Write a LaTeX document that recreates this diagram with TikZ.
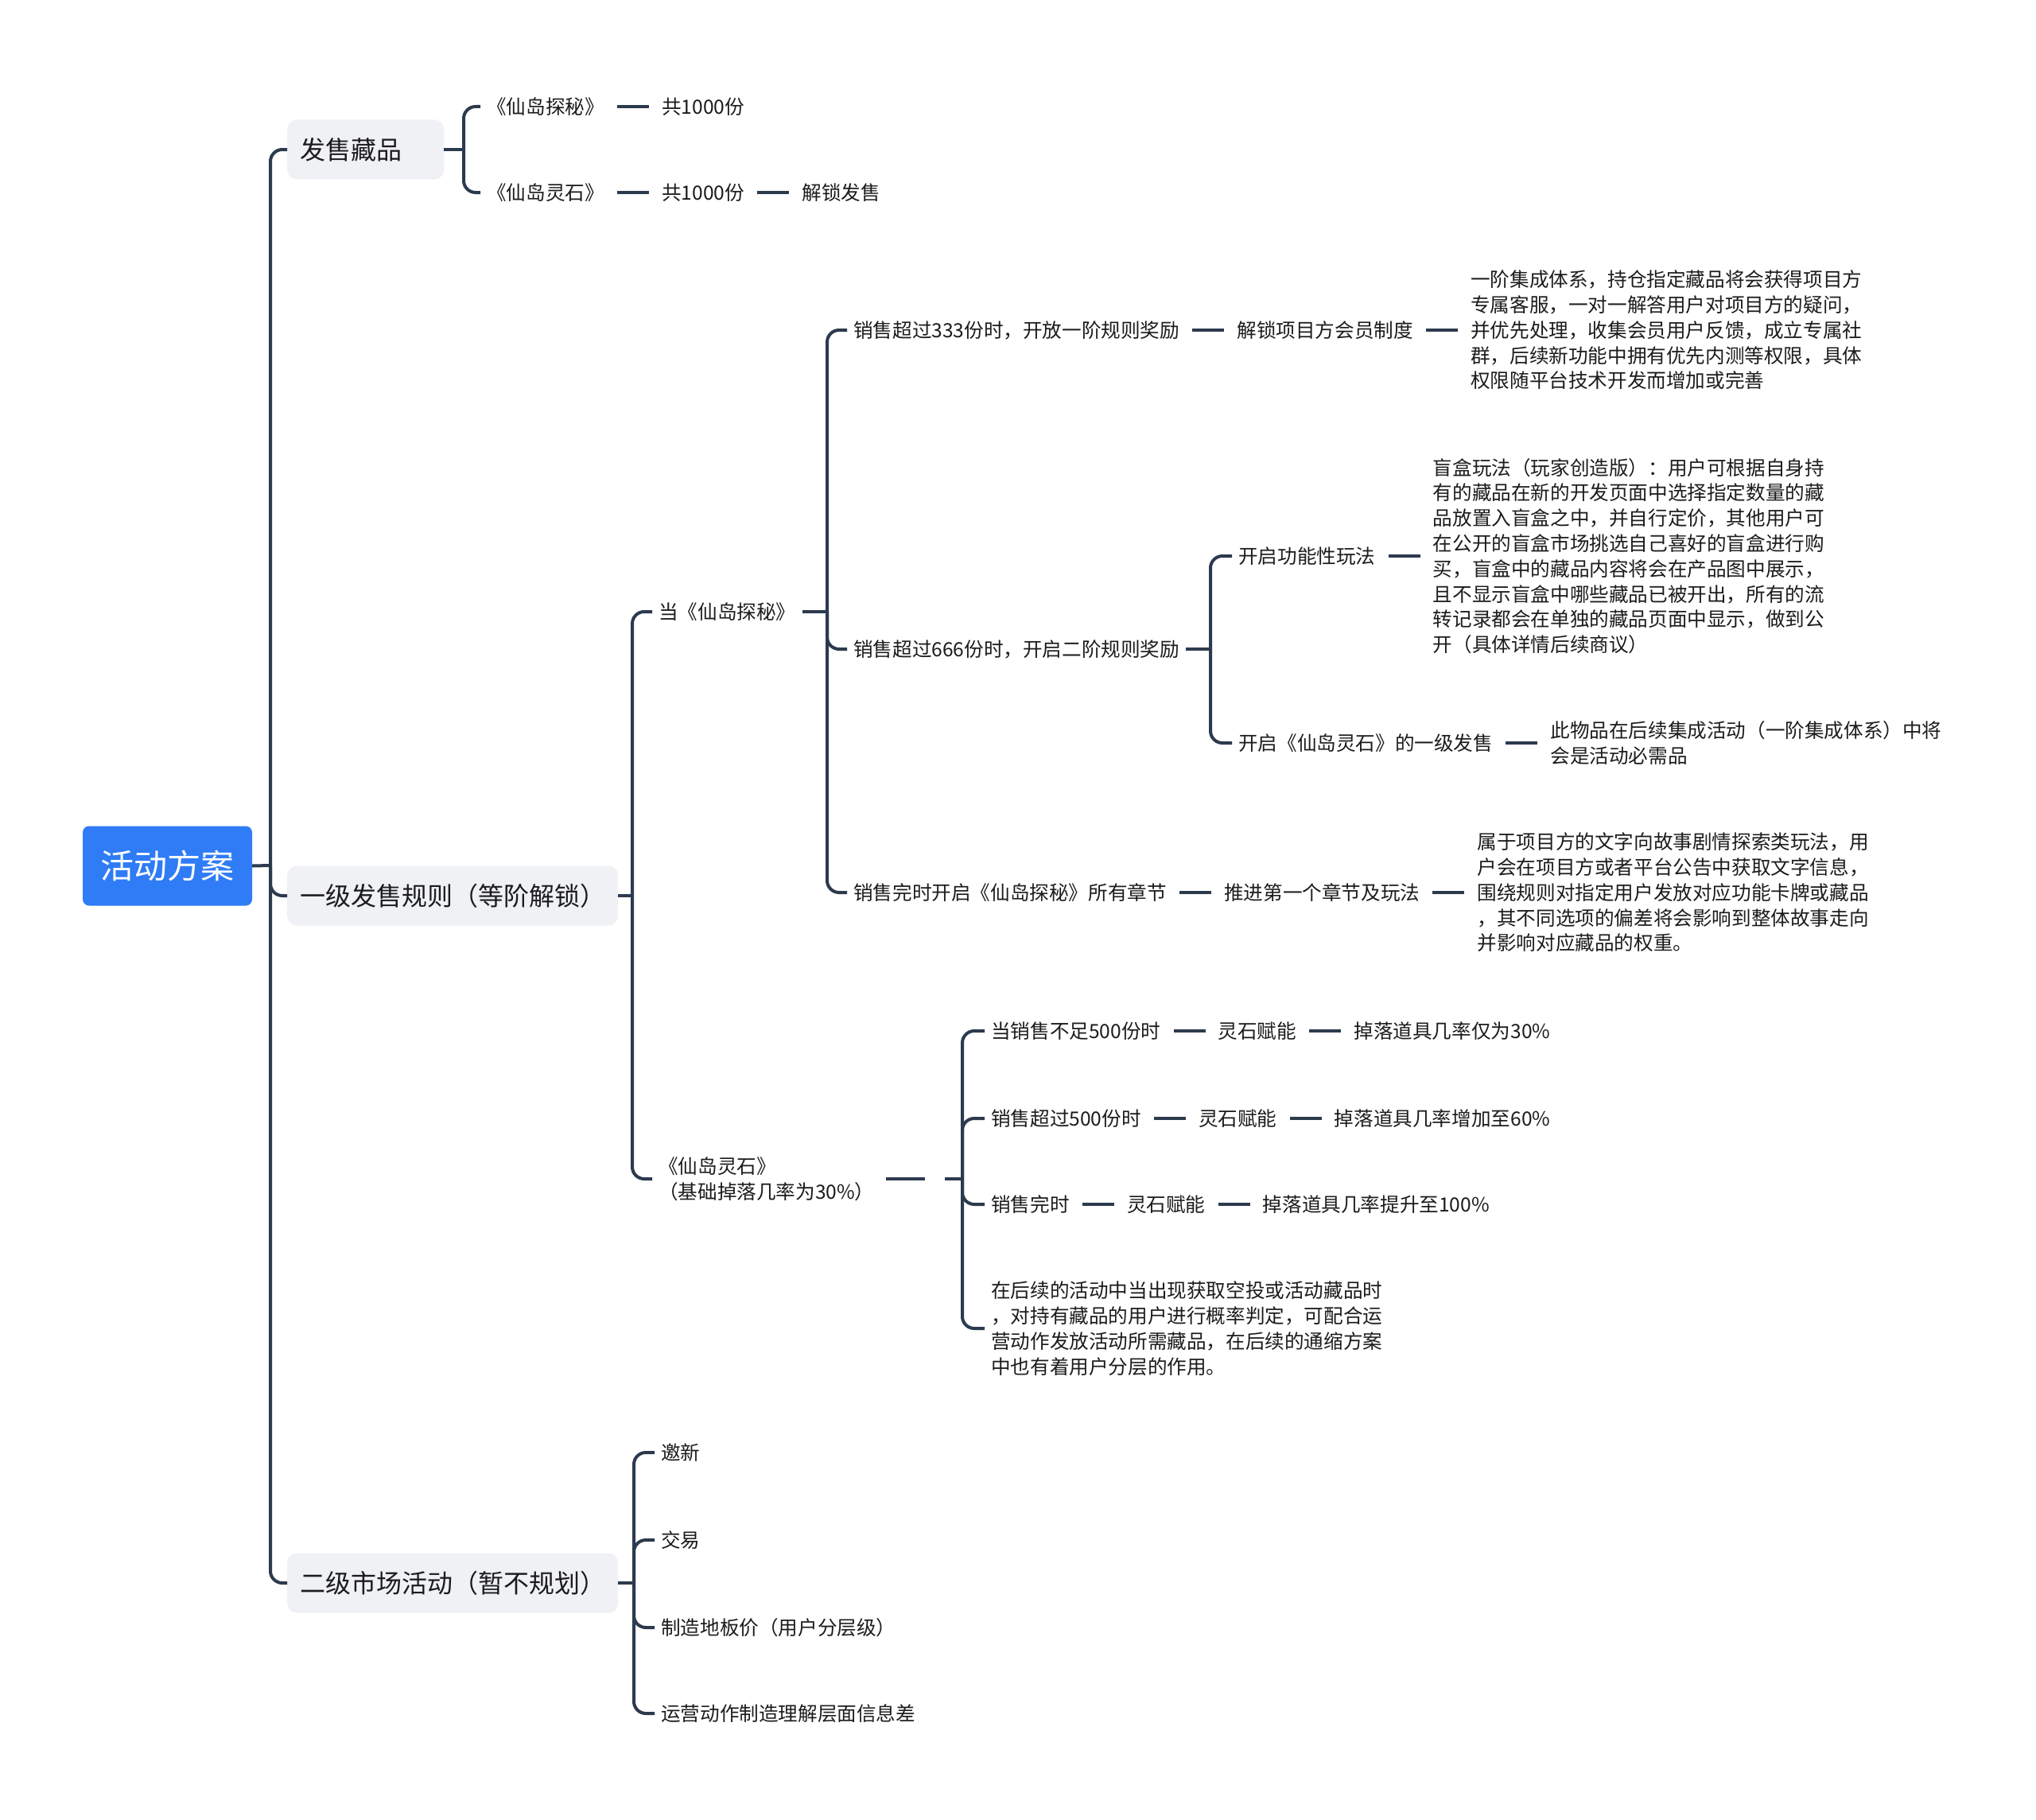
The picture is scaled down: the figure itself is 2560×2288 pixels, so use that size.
\documentclass[tikz,border=0pt]{standalone}
\usepackage{fontspec}
\setmainfont{Noto Sans CJK SC}
\usepackage{tikz}
\usetikzlibrary{positioning}
\definecolor{planBlue}{RGB}{47,124,246}
\definecolor{planGray}{RGB}{239,241,245}
\definecolor{planLine}{RGB}{44,58,78}
\definecolor{planText}{RGB}{28,28,28}

\begin{document}
\begin{tikzpicture}[
  x=1pt, y=-1pt,
  root/.style={
    rectangle, rounded corners=8pt, fill=planBlue, text=white,
    minimum width=213pt, minimum height=100pt, inner sep=0pt,
    font=\fontsize{42pt}{50pt}\selectfont
  },
  topic/.style={
    rectangle, rounded corners=12pt, fill=planGray, text=planText,
    minimum height=75pt, inner xsep=16pt, anchor=west,
    font=\fontsize{32pt}{40pt}\selectfont
  },
  leaf/.style={
    inner xsep=8pt, inner ysep=2pt, anchor=west, align=left, text=planText,
    font=\fontsize{24.6pt}{31.8pt}\selectfont
  },
  link/.style={draw=planLine, line width=4pt, rounded corners=15pt},
  tie/.style={draw=planLine, line width=4pt, shorten <=8pt, shorten >=8pt},
  node distance=56pt
]
\useasboundingbox (0,0) rectangle (2560,2288);
\fill[white] (0,0) rectangle (2560,2288);

% root and main topics
\node[root] (plan) at (210.5,1088.5) {活动方案};
\node[topic] (sale)   at (361,188)  {\makebox[165pt][l]{发售藏品}};
\node[topic] (tier)   at (361,1126) {一级发售规则（等阶解锁）};
\node[topic] (market) at (361,1990) {二级市场活动（暂不规划）};

% 发售藏品
\node[leaf] (xmA) at (604,134) {《仙岛探秘》};
\node[leaf, right=of xmA] (xmAn) {共1000份};
\node[leaf] (lsA) at (604,242) {《仙岛灵石》};
\node[leaf, right=of lsA] (lsAn) {共1000份};
\node[leaf, right=of lsAn] (lsAu) {解锁发售};

% 一级发售规则
\node[leaf] (whenXm) at (820,769) {当《仙岛探秘》};
\node[leaf] (lsB) at (820,1482) {《仙岛灵石》\\（基础掉落几率为30\%）};

\node[leaf] (s333) at (1065,415) {销售超过333份时，开放一阶规则奖励};
\node[leaf, right=of s333] (club) {解锁项目方会员制度};
\node[leaf, right=of club] (clubNote) {一阶集成体系，持仓指定藏品将会获得项目方\\专属客服，一对一解答用户对项目方的疑问，\\并优先处理，收集会员用户反馈，成立专属社\\群，后续新功能中拥有优先内测等权限，具体\\权限随平台技术开发而增加或完善};

\node[leaf] (s666) at (1065,816) {销售超过666份时，开启二阶规则奖励};
\node[leaf] (play) at (1549,699) {开启功能性玩法};
\node[leaf, right=of play] (playNote) {盲盒玩法（玩家创造版）：用户可根据自身持\\有的藏品在新的开发页面中选择指定数量的藏\\品放置入盲盒之中，并自行定价，其他用户可\\在公开的盲盒市场挑选自己喜好的盲盒进行购\\买，盲盒中的藏品内容将会在产品图中展示，\\且不显示盲盒中哪些藏品已被开出，所有的流\\转记录都会在单独的藏品页面中显示，做到公\\开（具体详情后续商议）};
\node[leaf] (lsOpen) at (1549,934) {开启《仙岛灵石》的一级发售};
\node[leaf, right=of lsOpen] (lsOpenNote) {此物品在后续集成活动（一阶集成体系）中将\\会是活动必需品};

\node[leaf] (sAll) at (1065,1122) {销售完时开启《仙岛探秘》所有章节};
\node[leaf, right=of sAll] (chapter) {推进第一个章节及玩法};
\node[leaf, right=of chapter] (chapterNote) {属于项目方的文字向故事剧情探索类玩法，用\\户会在项目方或者平台公告中获取文字信息，\\围绕规则对指定用户发放对应功能卡牌或藏品\\，其不同选项的偏差将会影响到整体故事走向\\并影响对应藏品的权重。};

% 仙岛灵石 drop rates
\node[leaf] (lt500) at (1238,1296) {当销售不足500份时};
\node[leaf, right=of lt500] (lt500a) {灵石赋能};
\node[leaf, right=of lt500a] (lt500b) {掉落道具几率仅为30\%};
\node[leaf] (gt500) at (1238,1406) {销售超过500份时};
\node[leaf, right=of gt500] (gt500a) {灵石赋能};
\node[leaf, right=of gt500a] (gt500b) {掉落道具几率增加至60\%};
\node[leaf] (done) at (1238,1514) {销售完时};
\node[leaf, right=of done] (donea) {灵石赋能};
\node[leaf, right=of donea] (doneb) {掉落道具几率提升至100\%};
\node[leaf] (dropNote) at (1238,1670) {在后续的活动中当出现获取空投或活动藏品时\\，对持有藏品的用户进行概率判定，可配合运\\营动作发放活动所需藏品，在后续的通缩方案\\中也有着用户分层的作用。};

% 二级市场活动
\node[leaf] (invite)  at (823,1826) {邀新};
\node[leaf] (trade)   at (823,1936) {交易};
\node[leaf] (floor)   at (823,2046) {制造地板价（用户分层级）};
\node[leaf] (infoGap) at (823,2154) {运营动作制造理解层面信息差};

% fork points
\coordinate (trunk)      at (340,1088);
\coordinate (saleFork)   at (583,188);
\coordinate (tierFork)   at (795,1126);
\coordinate (xmFork)     at (1040,769);
\coordinate (s666Fork)   at (1522,816);
\coordinate (lsCut)      at (1163,1482);
\coordinate (lsGap)      at (1188,1482);
\coordinate (lsFork)     at (1210,1482);
\coordinate (marketFork) at (797,1990);

% connectors
\draw[link] (plan.east) -- (trunk);
\foreach \t in {sale,tier,market} \draw[link] (trunk) |- (\t.west);

\draw[link] (sale.east) -- (saleFork);
\foreach \c in {xmA,lsA} \draw[link] (saleFork) |- (\c.west);

\draw[link] (tier.east) -- (tierFork);
\foreach \c in {whenXm,lsB} \draw[link] (tierFork) |- (\c.west);

\draw[link] (whenXm.east) -- (xmFork);
\foreach \c in {s333,s666,sAll} \draw[link] (xmFork) |- (\c.west);

\draw[link] (s666.east) -- (s666Fork);
\foreach \c in {play,lsOpen} \draw[link] (s666Fork) |- (\c.west);

\draw[link, shorten <=6pt] (lsB.east) -- (lsCut);
\draw[link] (lsGap) -- (lsFork);
\foreach \c in {lt500,gt500,done,dropNote} \draw[link] (lsFork) |- (\c.west);

\draw[link] (market.east) -- (marketFork);
\foreach \c in {invite,trade,floor,infoGap} \draw[link] (marketFork) |- (\c.west);

\foreach \a/\b in {xmA/xmAn, lsA/lsAn, lsAn/lsAu, s333/club, club/clubNote,
    play/playNote, lsOpen/lsOpenNote, sAll/chapter, chapter/chapterNote,
    lt500/lt500a, lt500a/lt500b, gt500/gt500a, gt500a/gt500b,
    done/donea, donea/doneb}
  \draw[tie] (\a.east) -- (\b.west);
\end{tikzpicture}
\end{document}
